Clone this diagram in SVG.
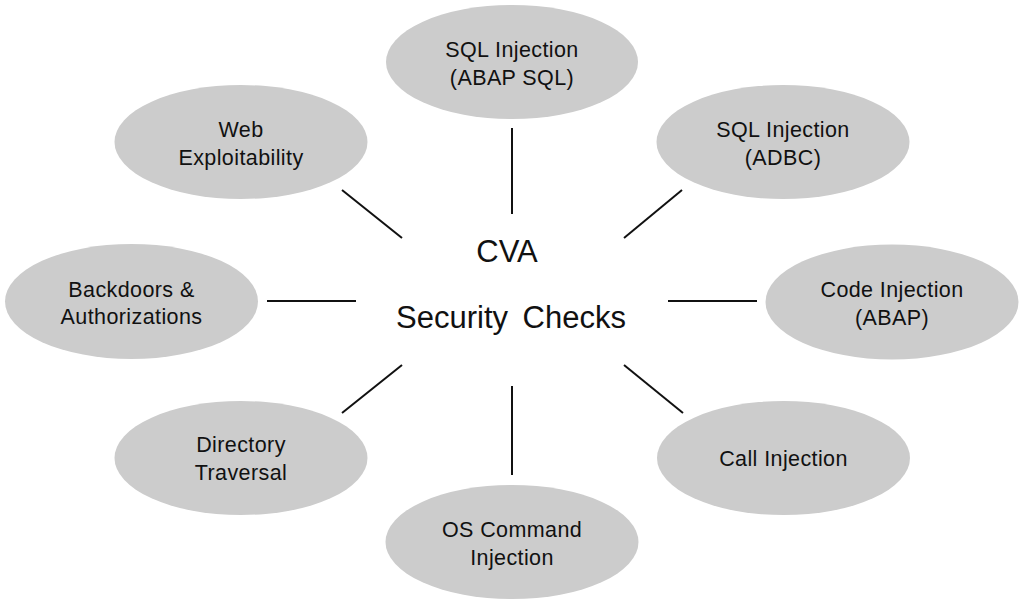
<svg xmlns="http://www.w3.org/2000/svg" width="1023" height="605" viewBox="0 0 1023 605">
  <style>
    .node ellipse { fill: #cccccc; }
    .node text { font-family: "Liberation Sans", Arial, sans-serif; font-size: 21.5px; fill: #111; text-anchor: middle; letter-spacing: 0.4px; }
    .hub text { font-family: "Liberation Sans", Arial, sans-serif; font-size: 31px; fill: #111; text-anchor: middle; }
    #connectors line { stroke: #111; stroke-width: 2; }
  </style>
  <rect width="1023" height="605" fill="#ffffff"/>

  <g id="connectors">
    <line x1="512" y1="128" x2="512" y2="214"/>
    <line x1="624" y1="238" x2="682" y2="190"/>
    <line x1="668" y1="301" x2="757" y2="301"/>
    <line x1="624" y1="365" x2="683" y2="413"/>
    <line x1="512" y1="386" x2="512" y2="475"/>
    <line x1="342" y1="413" x2="402" y2="365"/>
    <line x1="267" y1="301" x2="356" y2="301"/>
    <line x1="342" y1="190" x2="402" y2="238"/>
  </g>

  <g id="hub" class="hub">
    <text x="507" y="262">CVA</text>
    <text x="511" y="328" word-spacing="6">Security Checks</text>
  </g>

  <g id="sql-abap" class="node">
    <ellipse cx="512" cy="62" rx="126" ry="57"/>
    <text x="512" y="57">SQL Injection</text>
    <text x="512" y="85">(ABAP SQL)</text>
  </g>

  <g id="sql-adbc" class="node">
    <ellipse cx="783" cy="142" rx="126.5" ry="57"/>
    <text x="783" y="137">SQL Injection</text>
    <text x="783" y="165">(ADBC)</text>
  </g>

  <g id="code-injection" class="node">
    <ellipse cx="892" cy="302" rx="126.5" ry="57.5"/>
    <text x="892" y="297">Code Injection</text>
    <text x="892" y="325">(ABAP)</text>
  </g>

  <g id="call-injection" class="node">
    <ellipse cx="783.5" cy="458" rx="126.5" ry="57"/>
    <text x="783.5" y="466">Call Injection</text>
  </g>

  <g id="os-command" class="node">
    <ellipse cx="512" cy="542" rx="126.5" ry="57"/>
    <text x="512" y="537">OS Command</text>
    <text x="512" y="565">Injection</text>
  </g>

  <g id="directory-traversal" class="node">
    <ellipse cx="241" cy="458" rx="126.5" ry="57"/>
    <text x="241" y="452">Directory</text>
    <text x="241" y="480">Traversal</text>
  </g>

  <g id="backdoors" class="node">
    <ellipse cx="131.5" cy="301.5" rx="126.5" ry="57.5"/>
    <text x="131.5" y="297">Backdoors &amp;</text>
    <text x="131.5" y="324">Authorizations</text>
  </g>

  <g id="web-exploitability" class="node">
    <ellipse cx="241" cy="142" rx="126.5" ry="57"/>
    <text x="241" y="137">Web</text>
    <text x="241" y="165">Exploitability</text>
  </g>
</svg>
